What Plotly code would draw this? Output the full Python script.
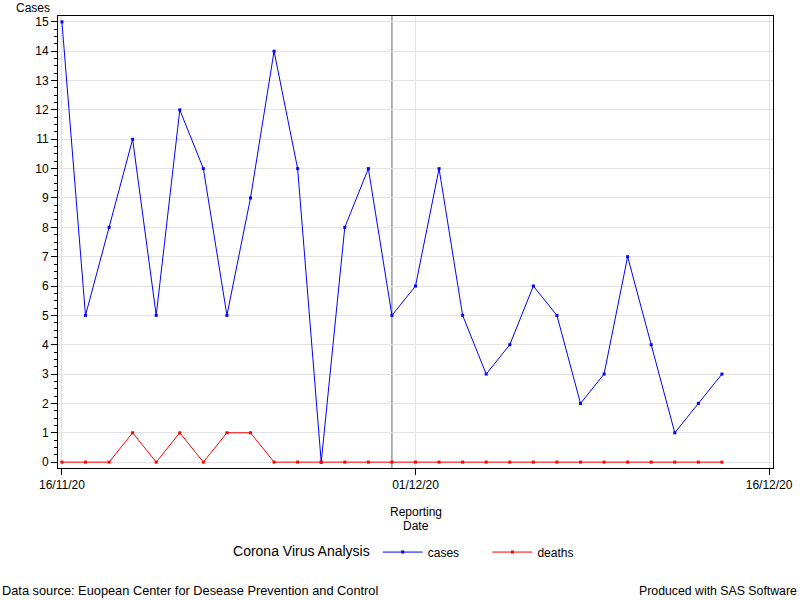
import plotly.graph_objects as go
import pandas as pd

dates = pd.date_range("2020-11-16", "2020-12-14", freq="D")
cases = [15, 5, 8, 11, 5, 12, 10, 5, 9, 14, 10, 0, 8, 10, 5,
         6, 10, 5, 3, 4, 6, 5, 2, 3, 7, 4, 1, 2, 3]
deaths = [0, 0, 0, 1, 0, 1, 0, 1, 1, 0, 0, 0, 0, 0, 0,
          0, 0, 0, 0, 0, 0, 0, 0, 0, 0, 0, 0, 0, 0]
x_tick_vals = ["2020-11-16", "2020-12-01", "2020-12-16"]
x_tick_text = ["16/11/20", "01/12/20", "16/12/20"]
ref_date = "2020-11-30"

FONT = "Liberation Sans, Arial, sans-serif"
NB = "\u00a0"

fig = go.Figure()
fig.add_trace(go.Scatter(
    x=dates, y=cases, name="cases" + NB * 7, mode="lines+markers",
    line=dict(color="#0000ff", width=1),
    marker=dict(symbol="square", size=3, color="#0000ff")))
fig.add_trace(go.Scatter(
    x=dates, y=deaths, name="deaths", mode="lines+markers",
    line=dict(color="#ff0000", width=1),
    marker=dict(symbol="square", size=3, color="#ff0000")))

fig.add_shape(type="line", xref="x", yref="paper",
              x0=ref_date, x1=ref_date, y0=0, y1=1,
              line=dict(color="#5f6873", width=1), layer="below")

fig.update_layout(
    width=800, height=600,
    margin=dict(l=58, r=27, t=16, b=132, autoexpand=False),
    paper_bgcolor="white", plot_bgcolor="white",
    font=dict(family=FONT, size=12, color="black"),
    showlegend=True,
    legend=dict(orientation="h", x=0.242, xanchor="left",
                y=-0.186, yanchor="middle",
                title=dict(text="Corona Virus Analysis", side="left"),
                font=dict(size=12), itemwidth=40),
    xaxis=dict(
        type="date", automargin=False,
        range=["2020-11-15 20:00", "2020-12-16 04:00"],
        tickvals=x_tick_vals, ticktext=x_tick_text,
        ticks="outside", ticklen=6, tickcolor="black",
        showline=True, linecolor="black", linewidth=1, mirror=True,
        showgrid=True, gridcolor="#e3e3e3",
        zeroline=False),
    yaxis=dict(
        range=[-0.2, 15.2], automargin=False,
        tickmode="linear", tick0=0, dtick=1,
        ticks="outside", ticklen=6, tickcolor="black",
        minor=dict(dtick=0.25, ticks="outside", ticklen=3, tickcolor="black", showgrid=False),
        showline=True, linecolor="black", linewidth=1, mirror=True,
        showgrid=True, gridcolor="#e3e3e3",
        zeroline=False),
    annotations=[
        dict(text="Cases", xref="paper", yref="paper",
             x=-0.0615, y=1.0177, xanchor="left", yanchor="middle",
             showarrow=False, font=dict(size=12)),
        dict(text="Reporting", xref="paper", yref="paper",
             x=0.5007, y=-0.0973, xanchor="center", yanchor="middle",
             showarrow=False, font=dict(size=12)),
        dict(text="Date", xref="paper", yref="paper",
             x=0.5007, y=-0.1283, xanchor="center", yanchor="middle",
             showarrow=False, font=dict(size=12)),
        dict(text="Data source: Euopean Center for Desease Prevention and Control",
             xref="paper", yref="paper", x=-0.0811, y=-0.2714,
             xanchor="left", yanchor="middle", showarrow=False, font=dict(size=12.8)),
        dict(text="Produced with SAS Software",
             xref="paper", yref="paper", x=1.037, y=-0.2714,
             xanchor="right", yanchor="middle", showarrow=False, font=dict(size=12.3)),
    ],
)

fig.write_html("out.html", config={"displayModeBar": False},
               post_script="document.body.style.margin='0';")
